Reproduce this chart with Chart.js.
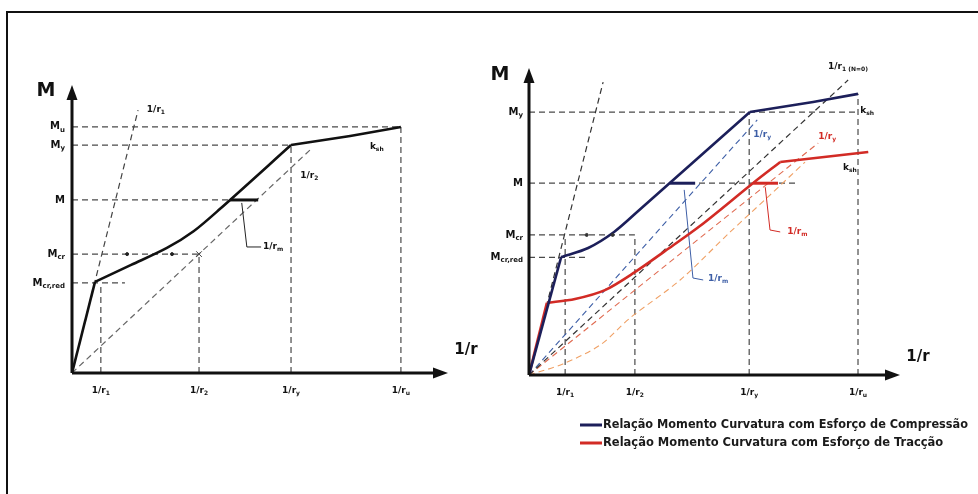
<!DOCTYPE html>
<html>
<head>
<meta charset="utf-8">
<script src="https://cdn.jsdelivr.net/npm/chart.js@4.4.1/dist/chart.umd.min.js"></script>
<style>
  html, body { margin: 0; padding: 0; background: #fff; overflow: hidden; }
  #frame { position: absolute; left: 6px; top: 11px; width: 1000px; height: 520px; border-left: 2px solid #111; border-top: 2px solid #111; }
  #left { position: absolute; left: 0; top: 0; }
  #right { position: absolute; left: 489px; top: 0; }
</style>
</head>
<body>
<div id="frame"></div>
<canvas id="left" width="489" height="494"></canvas>
<canvas id="right" width="489" height="494"></canvas>
<script>
// ---- left diagram (pure bending) ----
// curvature ticks 1/r and their subscripts
const leftTicks = [0.79, 3.48, 6.0, 9.01];
const leftTickSubs = ['1', '2', 'y', 'u'];
// moment levels and subscripts
const leftLevels = [100, 92.6, 70.3, 48.3, 36.6];
const leftLevelSubs = ['u', 'y', '', 'cr', 'cr,red'];
// where each horizontal guide stops, and how high each vertical guide goes
const leftLevelEnd = [9.01, 6.0, 5.15, 3.48, 1.45];
const leftTickTop = [36.6, 48.3, 92.6, 99.9];
// moment-curvature curve
const leftCurveX = [0, 0.63, 1.62, 2.60, 3.34, 4.05, 6.0, 7.62, 9.01];
const leftCurveM = [0, 37.0, 43.9, 50.8, 57.7, 66.6, 92.6, 96.3, 99.9];
// stiffness lines 1/r1 (uncracked) and 1/r2 (cracked)
const leftR1X = [0, 1.81], leftR1M = [0, 106.8];
const leftR2X = [0, 6.52], leftR2M = [0, 90.6];
// 1/rm step at M and its leader
const leftStepX = [4.33, 5.10], leftStepM = [70.3, 70.3];
const leftLeadX = [4.65, 4.79, 5.18], leftLeadM = [69.1, 51.2, 51.2];
// tension stiffening marks on Mcr
const leftDotsX = [1.51, 2.74], leftDotsM = [48.3, 48.3];

// ---- right diagram (with axial force) ----
const rightTicks = [0.99, 2.9, 6.03, 9.01];
const rightTickSubs = ['1', '2', 'y', 'u'];
const rightLevels = [106.8, 77.9, 56.9, 47.8];
const rightLevelSubs = ['y', '', 'cr', 'cr,red'];
const rightLevelEnd = [9.01, 7.37, 2.9, 1.58];
const rightTickTop = [56.9, 56.9, 106.8, 114.2];
// compression curve
const compX = [0, 0.88, 1.62, 2.33, 2.99, 6.05, 7.78, 9.01];
const compM = [0, 47.9, 51.6, 58.1, 66.6, 106.8, 110.9, 114.2];
// tension curve
const tensX = [0, 0.49, 1.26, 2.08, 2.90, 3.73, 4.68, 6.14, 6.88, 9.29];
const tensM = [0, 29.3, 30.9, 34.5, 41.8, 50.4, 60.5, 78.0, 86.5, 90.6];
// dashed reference lines
const rSteepX = [0, 2.03], rSteepM = [0, 119.0];
const rN0X = [0, 8.74], rN0M = [0, 119.8];
const rBlueX = [0, 6.25], rBlueM = [0, 103.6];
const rRedX = [0, 7.92], rRedM = [0, 94.2];
const rOrangeX = [0, 0.93, 1.95, 2.77, 4.14, 5.51, 6.6, 7.56];
const rOrangeM = [0, 4.5, 12.2, 23.2, 38.6, 58.1, 73.1, 86.5];
// 1/rm steps
const compStepX = [3.85, 4.55], compStepM = [77.9, 77.9];
const compLeadX = [4.25, 4.49, 4.77], compLeadM = [75.2, 39.4, 38.6];
const tensStepX = [6.14, 6.82], tensStepM = [77.9, 77.9];
const tensLeadX = [6.47, 6.60, 6.88], tensLeadM = [76.3, 58.9, 58.1];
const rightDotsX = [1.58, 2.29], rightDotsM = [56.9, 56.9];

const legendLabels = ['Relação Momento Curvatura com Esforço de Compressão',
                      'Relação Momento Curvatura com Esforço de Tracção'];

const NAVY = '#1c1f5a', RED = '#d22b25', GUIDE = '#4a4a4a', BLUE = '#3d5ea6', ORANGE = '#f0a064';
const DASH = [6, 4];

function pts(xs, ys) {
  return xs.map((x, i) => ({ x: x, y: ys[i] }));
}

function line(xs, ys, color, width, dash, order, smooth) {
  return {
    data: pts(xs, ys), showLine: true, borderColor: color, backgroundColor: color,
    borderWidth: width, borderDash: dash || [], pointRadius: 0, order: order,
    tension: smooth ? 0.3 : 0
  };
}

// a curve split into straight / smooth / straight parts at index a and b
function curve(xs, ys, a, b, color) {
  return [
    line(xs.slice(0, a + 1), ys.slice(0, a + 1), color, 2.6, [], 1),
    line(xs.slice(a, b + 1), ys.slice(a, b + 1), color, 2.6, [], 1, true),
    line(xs.slice(b), ys.slice(b), color, 2.6, [], 1)
  ];
}

function marks(xs, ys, color, style, r) {
  return {
    data: pts(xs, ys), showLine: false, pointStyle: style, pointRadius: r,
    borderColor: color, backgroundColor: color, borderWidth: 1, order: 0
  };
}

// text with a small subscript
function subText(ctx, main, sub, x, y, size, align, color) {
  ctx.save();
  ctx.fillStyle = color || '#111';
  ctx.textBaseline = 'middle';
  ctx.textAlign = 'left';
  const f1 = 'bold ' + size + 'px "DejaVu Sans"';
  const f2 = 'bold ' + Math.round(size * 0.65) + 'px "DejaVu Sans"';
  ctx.font = f1;
  const w1 = ctx.measureText(main).width;
  ctx.font = f2;
  const w2 = sub ? ctx.measureText(sub).width : 0;
  let left = x;
  if (align === 'right') left = x - w1 - w2;
  if (align === 'center') left = x - (w1 + w2) / 2;
  ctx.font = f1;
  ctx.fillText(main, left, y);
  if (sub) {
    ctx.font = f2;
    ctx.fillText(sub, left + w1, y + size * 0.3);
  }
  ctx.restore();
}

function decorate(chart, o) {
  const ctx = chart.ctx, xs = chart.scales.x, ys = chart.scales.y;
  const x0 = xs.getPixelForValue(0), y0 = ys.getPixelForValue(0);
  const xEnd = xs.getPixelForValue(o.xMax), yTop = ys.getPixelForValue(o.yMax);

  // axes with arrows
  ctx.save();
  ctx.strokeStyle = '#111';
  ctx.fillStyle = '#111';
  ctx.lineWidth = 3;
  ctx.beginPath();
  ctx.moveTo(x0, y0); ctx.lineTo(xEnd - 10, y0);
  ctx.moveTo(x0, y0); ctx.lineTo(x0, yTop + 10);
  ctx.stroke();
  ctx.beginPath();
  ctx.moveTo(xEnd, y0); ctx.lineTo(xEnd - 15, y0 - 5.5); ctx.lineTo(xEnd - 15, y0 + 5.5);
  ctx.closePath(); ctx.fill();
  ctx.beginPath();
  ctx.moveTo(x0, yTop); ctx.lineTo(x0 - 5.5, yTop + 15); ctx.lineTo(x0 + 5.5, yTop + 15);
  ctx.closePath(); ctx.fill();
  ctx.restore();

  // axis titles
  subText(ctx, 'M', '', x0 - o.mTitle[0], yTop + o.mTitle[1], 19, 'center');
  subText(ctx, '1/r', '', xEnd + o.rTitle[0], y0 + o.rTitle[1], 15, 'center');

  // tick labels
  o.ticks.forEach((t, i) => {
    subText(ctx, '1/r', o.tickSubs[i], xs.getPixelForValue(t), y0 + 18, 9, 'center');
  });
  o.levels.forEach((m, i) => {
    subText(ctx, 'M', o.levelSubs[i], x0 - o.levelGap, ys.getPixelForValue(m), 10, 'right');
  });

  // annotations
  o.notes.forEach(n => {
    subText(ctx, n.t, n.s, xs.getPixelForValue(n.x), ys.getPixelForValue(n.y), n.size || 9, 'left', n.c);
  });

  if (o.legend) {
    ctx.save();
    legendLabels.forEach((lab, i) => {
      const y = o.legend.y + i * 18;
      ctx.strokeStyle = o.legend.colors[i];
      ctx.lineWidth = 3;
      ctx.beginPath();
      ctx.moveTo(o.legend.x, y); ctx.lineTo(o.legend.x + 22, y);
      ctx.stroke();
      ctx.fillStyle = '#1a1a1a';
      ctx.font = 'bold 11.5px "DejaVu Sans"';
      ctx.textBaseline = 'middle';
      ctx.fillText(lab, o.legend.x + 23, y, i === 0 ? 365 : 348);
    });
    ctx.restore();
  }
}

function buildChart(id, o) {
  const ds = o.datasets.slice();
  o.levels.forEach((m, i) => ds.push(line([0, o.levelEnd[i]], [m, m], GUIDE, 1.2, DASH, 5)));
  o.ticks.forEach((t, i) => ds.push(line([t, t], [0, o.tickTop[i]], GUIDE, 1.2, DASH, 5)));
  return new Chart(document.getElementById(id), {
    type: 'scatter',
    data: { datasets: ds },
    options: {
      responsive: false,
      animation: false,
      layout: { padding: o.pad },
      scales: {
        x: { type: 'linear', display: false, min: 0, max: o.xMax },
        y: { type: 'linear', display: false, min: 0, max: o.yMax }
      },
      plugins: { legend: { display: false }, tooltip: { enabled: false } }
    },
    plugins: [{ id: 'decor', afterDatasetsDraw(chart) { decorate(chart, o); } }]
  });
}

buildChart('left', {
  pad: { left: 72, top: 85, right: 41, bottom: 121 },
  xMax: 10.3, yMax: 117,
  ticks: leftTicks, tickSubs: leftTickSubs, tickTop: leftTickTop,
  levels: leftLevels, levelSubs: leftLevelSubs, levelEnd: leftLevelEnd, levelGap: 7,
  mTitle: [26, 6], rTitle: [18, -23],
  datasets: curve(leftCurveX, leftCurveM, 1, 6, '#111').concat([
    line(leftStepX, leftStepM, '#111', 3, [], 1),
    line(leftLeadX, leftLeadM, '#222', 1, [], 2),
    line(leftR1X, leftR1M, '#444', 1.2, DASH, 3),
    line(leftR2X, leftR2M, '#666', 1.2, DASH, 3),
    marks(leftDotsX, leftDotsM, '#222', 'circle', 1.5),
    marks([leftTicks[1]], [leftLevels[3]], '#444', 'crossRot', 4)
  ]),
  notes: [
    { t: '1/r', s: '1', x: 2.05, y: 106.8 },
    { t: '1/r', s: '2', x: 6.25, y: 80.0 },
    { t: '1/r', s: 'm', x: 5.23, y: 51.2 },
    { t: 'k', s: 'sh', x: 8.16, y: 91.8 }
  ]
});

buildChart('right', {
  pad: { left: 40, top: 68, right: 78, bottom: 119 },
  xMax: 10.16, yMax: 124.7,
  ticks: rightTicks, tickSubs: rightTickSubs, tickTop: rightTickTop,
  levels: rightLevels, levelSubs: rightLevelSubs, levelEnd: rightLevelEnd, levelGap: 6,
  mTitle: [29, 7], rTitle: [18, -18],
  datasets: curve(compX, compM, 1, 5, NAVY).concat(curve(tensX, tensM, 1, 8, RED), [
    line(compStepX, compStepM, NAVY, 3, [], 1),
    line(tensStepX, tensStepM, RED, 3, [], 1),
    line(compLeadX, compLeadM, BLUE, 1, [], 2),
    line(tensLeadX, tensLeadM, RED, 1, [], 2),
    line(rSteepX, rSteepM, '#333', 1.2, DASH, 3),
    line(rN0X, rN0M, '#333', 1.2, DASH, 3),
    line(rBlueX, rBlueM, BLUE, 1.1, DASH, 3),
    line(rRedX, rRedM, '#e06a50', 1.1, DASH, 3),
    line(rOrangeX, rOrangeM, ORANGE, 1.1, DASH, 3, true),
    marks(rightDotsX, rightDotsM, '#333', 'circle', 1.5)
  ]),
  notes: [
    { t: '1/r', s: '1 (N=0)', x: 8.19, y: 125.1 },
    { t: '1/r', s: 'y', x: 6.14, y: 97.5, c: BLUE },
    { t: '1/r', s: 'y', x: 7.92, y: 96.7, c: RED },
    { t: 'k', s: 'sh', x: 9.07, y: 107.2 },
    { t: 'k', s: 'sh', x: 8.6, y: 84.1 },
    { t: '1/r', s: 'm', x: 4.9, y: 39.0, c: BLUE },
    { t: '1/r', s: 'm', x: 7.07, y: 58.1, c: RED }
  ],
  legend: { x: 91, y: 425, colors: [NAVY, RED] }
});
</script>
</body>
</html>
